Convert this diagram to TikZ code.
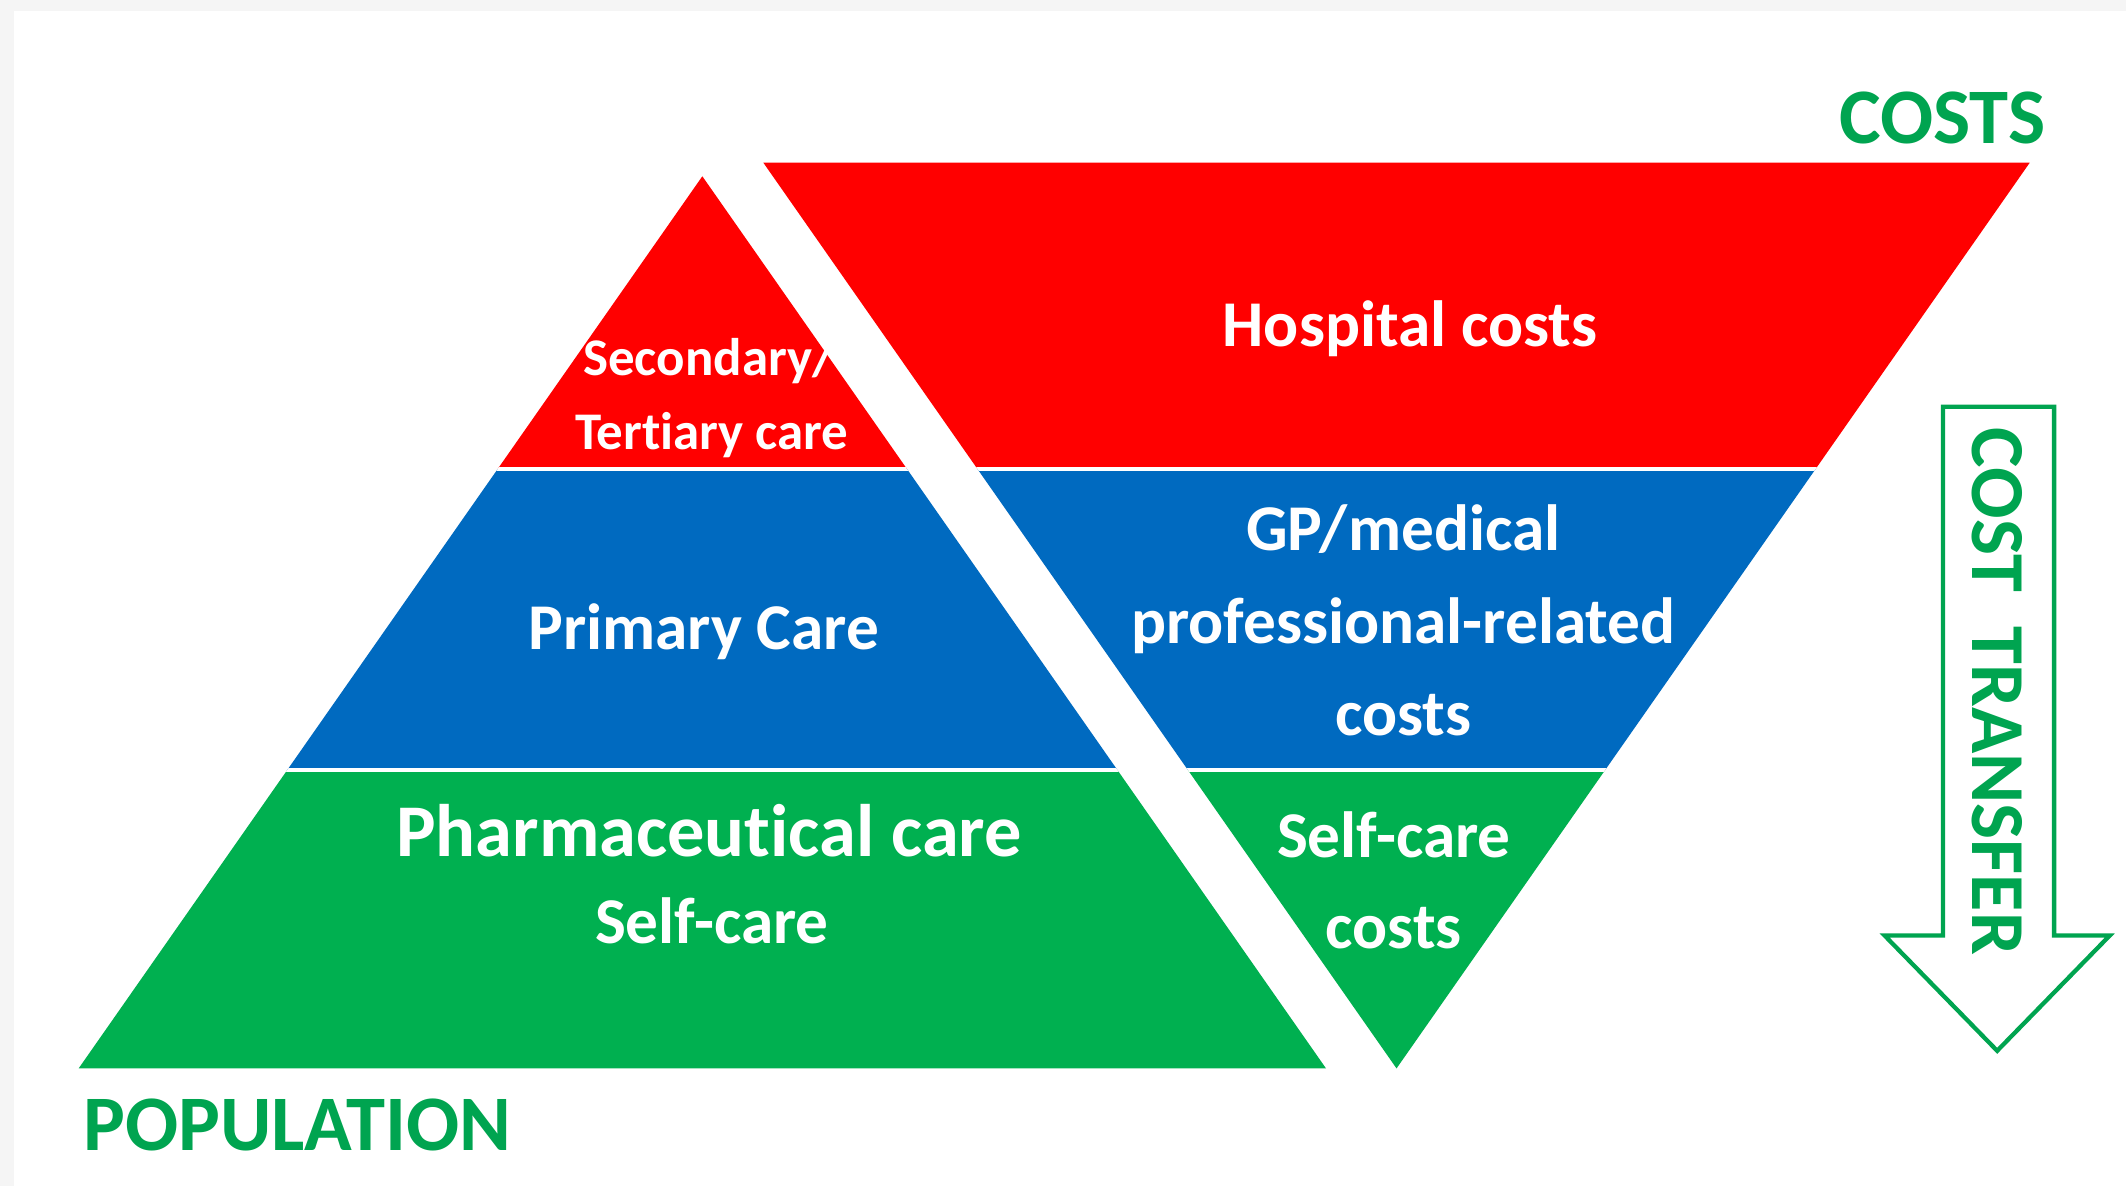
\documentclass[tikz,border=0pt]{standalone}
\usepackage{fontspec}
\setmainfont{Carlito}[Ligatures=NoCommon]
\definecolor{costred}{RGB}{255,0,0}
\definecolor{costblue}{RGB}{0,106,192}
\definecolor{costgreen}{RGB}{0,176,80}
\definecolor{labelgreen}{RGB}{0,164,80}

\begin{document}
\begin{tikzpicture}[x=0.01cm, y=-0.01cm, thick,
  band/.style={white, line width=0.9pt},
  lab/.style={text=white, font=\bfseries\fontsize{13.7}{15}\selectfont, text height=0.7em, text depth=0.2em, inner sep=0pt},
  small/.style={font=\bfseries\fontsize{11.1}{13}\selectfont},
  big/.style={font=\bfseries\fontsize{15.6}{17}\selectfont},
  axis/.style={text=labelgreen, font=\bfseries\fontsize{16.5}{18}\selectfont, inner sep=0pt}]
\fill[gray!8] (0,0) rectangle (1568,875);
\fill[white] (10,8) rectangle (1568,875);
\useasboundingbox (0,0) rectangle (1568,875);

\coordinate (top) at (518,130);
\coordinate (bl) at (58,788);
\coordinate (br) at (978,788);
\begin{scope}
\clip (top) -- (bl) -- (br) -- cycle;
\fill[costred]   (0,100) rectangle (1000,346);
\fill[costblue]  (0,346) rectangle (1000,568);
\fill[costgreen] (0,568) rectangle (1000,800);
\draw[band] (0,346)--(1000,346);
\draw[band] (0,568)--(1000,568);
\end{scope}

\coordinate (tl) at (563,120);
\coordinate (tr) at (1497,120);
\coordinate (bot) at (1030,788);
\begin{scope}
\clip (tl) -- (tr) -- (bot) -- cycle;
\fill[costred]   (500,100) rectangle (1550,346);
\fill[costblue]  (500,346) rectangle (1550,568);
\fill[costgreen] (500,568) rectangle (1550,800);
\draw[band] (500,346)--(1550,346);
\draw[band] (500,568)--(1550,568);
\end{scope}

\node[lab, small] (sec) at (523,268) {Secondary/};
\node[lab, small] (ter) at (525,323) {Tertiary care};
\node[lab] (prim) at (519,470) {Primary Care};
\node[lab, big] (pharm) at (523,623) {Pharmaceutical care};
\node[lab] (self) at (525,687) {Self-care};

\node[lab] (hosp) at (1040,247) {Hospital costs};
\node[lab] (gp) at (1035,397) {GP/medical};
\node[lab] (prof) at (1035,466) {professional-related};
\node[lab] (gpcosts) at (1035,534) {costs};
\node[lab] (selfc) at (1028,624) {Self-care};
\node[lab] (selfcosts) at (1028,691) {costs};

\node[axis, anchor=east] (costs) at (1510,87) {COSTS};
\node[axis, anchor=west] (pop) at (60,830) {POPULATION};

\draw[labelgreen, line width=0.9pt] (1433,300) -- (1515,300) -- (1515,690) -- (1556,690)
  -- (1473,775) -- (1390,690) -- (1433,690) -- cycle;
\node[axis, rotate=-90, font=\bfseries\fontsize{16}{18}\selectfont] (transfer) at (1473,510) {COST\hspace{0.45em}TRANSFER};

\end{tikzpicture}
\end{document}
